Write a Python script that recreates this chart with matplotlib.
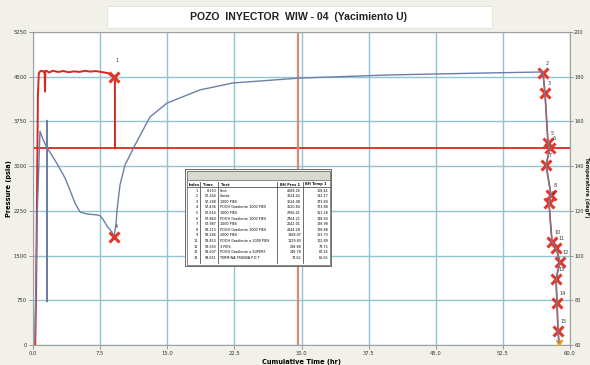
import matplotlib
matplotlib.use("Agg")
import matplotlib.pyplot as plt
from matplotlib.patches import Rectangle

# ---- data -------------------------------------------------------------
# Bottom-hole pressure during injection (psia) vs cumulative time (hr)
inj_time = [0.25, 0.35, 0.45, 0.55, 0.65, 0.8, 1.0, 1.2, 1.3, 1.34, 1.38, 1.5, 1.8,
            2.2, 2.8, 3.4, 4.0, 4.6, 5.2, 5.8, 6.4, 7.0, 7.6, 8.0, 8.4, 8.7, 9.05, 9.15, 9.16]
inj_pres = [0, 900, 2600, 4200, 4560, 4590, 4600, 4580, 4590, 4250, 4590, 4600, 4570,
            4600, 4580, 4595, 4575, 4590, 4580, 4600, 4585, 4595, 4580, 4570, 4560, 4520, 4494, 4480, 3300]

# Bottom-hole temperature (degF): injection cooling and shut-in recovery
temp_time = [0.22, 0.45, 0.78, 1.12, 1.54, 1.55, 1.56, 1.57, 1.9, 2.64, 3.58, 4.13, 4.69,
             5.25, 6.0, 7.13, 7.5, 7.86, 8.27, 8.83, 9.05, 9.27, 9.39, 9.72, 10.28, 11.40,
             13.07, 14.97, 18.66, 22.35, 29.83, 39.89, 51.06, 56.65, 56.98]
temp_vals = [62.0, 115.9, 155.6, 151.9, 148.4, 160.5, 79.3, 148.2, 146.2, 141.4, 134.7, 129.3, 123.5,
             119.5, 118.6, 118.2, 117.8, 116.0, 113.2, 110.5, 108.3, 113.7, 120.4, 131.6, 140.5, 149.5,
             162.0, 168.2, 174.1, 177.2, 179.4, 180.8, 181.7, 182.1, 182.1]

# Gradient survey while pulling out of hole
grad_time = [56.98, 57.21, 57.54, 57.76, 57.32, 57.88, 57.65, 57.99, 58.44, 58.88, 58.44, 58.55, 58.66, 58.77]
grad_pres = [4561, 4226, 3390, 3300, 3019, 2516, 2381, 1727, 1627, 1392, 1107, 704, 235, 34]
grad_temp = [181.6, 172.0, 150.5, 148.0, 140.8, 127.0, 123.5, 106.0, 103.3, 97.0, 89.6, 78.8, 66.3, 61.0]
grad_lbl = ["2", "3", "5", "6", "7", "8", "9", "10", "11", "12", "13", "14", "15", ""]

# Shut-in marker
shut_time = 9.05
shut_pres = 4494
buildup_start_temp = 108.3

ref_pres = 3300      # horizontal reference pressure
ref_time = 29.6      # vertical reference time

x_ticks = [0.0, 7.5, 15.0, 22.5, 30.0, 37.5, 45.0, 52.5, 60.0]
p_ticks = [0, 750, 1500, 2250, 3000, 3750, 4500, 5250]
t_ticks = [60, 80, 100, 120, 140, 160, 180, 200]

# Event table
tbl_index = [str(i) for i in range(1, 14)]
tbl_time = ["8.110", "57.264", "57.288", "57.436", "57.614", "57.860", "57.987",
            "58.213", "58.284", "58.453", "58.583", "58.607", "59.651"]
tbl_text = ["Shut", "Sonda", "1000 PIES", "POOH Gradiente 1000 PIES", "1000 PIES",
            "POOH Gradiente 1000 PIES", "1000 PIES", "POOH Gradiente 1000 PIES",
            "2000 PIES", "POOH Gradiente a 2000 PIES", "3 PIES",
            "POOH Gradiente a SUPERF.", "TERMINA PRUEBA P.O.T"]
tbl_pres = ["4568.26", "3024.42", "3624.08", "3520.84", "2766.41", "2764.21", "2142.01",
            "2144.28", "1168.07", "1129.83", "288.88", "248.78", "17.62"]
tbl_temp = ["108.41", "182.17", "173.80", "173.88", "161.28", "148.60", "128.98",
            "128.88", "103.73", "102.89", "73.75", "67.26", "60.65"]

# ---- styling ----------------------------------------------------------
W, H = 590, 365
RED = "#d8281e"
BLUE = "#6d7ea6"
GRID = "#93c4d2"

fig = plt.figure(figsize=(W / 100, H / 100), dpi=100, facecolor="#f1f0e9")
ax = fig.add_axes([33 / W, 1 - 345 / H, (570 - 33) / W, (345 - 32) / H])
ax.set_facecolor("white")

ax.set_xlim(0, 60)
ax.set_ylim(0, 5250)
ax.set_xticks(x_ticks)
ax.set_xticklabels([f"{v:.1f}" for v in x_ticks])
ax.set_yticks(p_ticks)
ax.grid(True, color=GRID, lw=1.0)
ax.set_axisbelow(True)
for s in ax.spines.values():
    s.set_color("#a0a0a0")
    s.set_linewidth(0.8)
ax.tick_params(labelsize=3.8, length=3, width=0.6, color="#888888", pad=1.5, labelcolor="#333333")

ax2 = ax.twinx()
ax2.set_ylim(60, 200)
ax2.set_yticks(t_ticks)
ax2.tick_params(labelsize=3.6, length=2, width=0.6, color="#888888", pad=1.0, labelcolor="#333333")
for s in ax2.spines.values():
    s.set_visible(False)

ax.set_ylabel("Pressure (psia)", fontsize=4.8, fontweight="bold", labelpad=1)
ax.set_xlabel("Cumulative Time (hr)", fontsize=4.8, fontweight="bold", labelpad=2)
fig.text(586.5 / W, 1 - 187 / H, "Temperature (degF)", rotation=270, ha="center", va="center",
         fontsize=3.9, fontweight="bold", color="#222222")

# reference lines
ax.axhline(ref_pres, color=RED, lw=1.3, zorder=2)
ax.axvline(ref_time, color="#d48c78", lw=1.6, zorder=2)

# temperature
ax2.plot(temp_time, temp_vals, color=BLUE, lw=1.0, zorder=3)
ax2.plot(grad_time, grad_temp, color=BLUE, lw=0.9, zorder=3)

# pressure
ax.plot(inj_time, inj_pres, color=RED, lw=1.4, zorder=4)
ax.plot(grad_time, grad_pres, color=RED, lw=1.2, zorder=4)

# event markers
mk = dict(marker="x", color="#e0392b", markersize=7.5, mew=2.2, ls="none", zorder=5)
ax.plot([shut_time], [shut_pres], **mk)
ax2.plot([shut_time], [buildup_start_temp], **mk)
ax.plot(grad_time[:-1], grad_pres[:-1], **mk)
ax.plot(grad_time[-1:], grad_pres[-1:], marker="v", color="#f0a030", markersize=4, ls="none", zorder=5)
ax.text(shut_time + 0.2, shut_pres + 250, "1", fontsize=3.5, color="#333333", zorder=6)
ax2.text(shut_time + 0.1, buildup_start_temp + 4, "4", fontsize=3.5, color="#333333", zorder=6)
for t, p, s in zip(grad_time, grad_pres, grad_lbl):
    ax.text(t + 0.3, p + 140, s, fontsize=3.5, color="#333333", zorder=6)

# title
fig.patches.append(Rectangle((107 / W, 1 - 28 / H), (492 - 107) / W, 22 / H,
                             transform=fig.transFigure, facecolor="white",
                             edgecolor="#e2e2dc", lw=0.6))
fig.text(299 / W, 1 - 17 / H, "POZO  INYECTOR  WIW - 04  (Yacimiento U)",
         ha="center", va="center", fontsize=7.6, fontweight="bold",
         family="Liberation Sans", color="#222222")

# event table drawn in pixel-like coordinates
tx0, ty0, tw, th = 185, 169, 147, 98
tab = fig.add_axes([tx0 / W, 1 - (ty0 + th) / H, tw / W, th / H])
tab.set_xlim(0, tw)
tab.set_ylim(th, 0)
tab.axis("off")
tab.add_patch(Rectangle((0, 0), tw, th, facecolor="#f4f4f0", edgecolor="#555555", lw=1.2))
tab.add_patch(Rectangle((2, 2), tw - 4, th - 4, facecolor="white", edgecolor="#777777", lw=0.6))
tab.add_patch(Rectangle((2, 2), tw - 4, 9, facecolor="#d9dacf", edgecolor="#777777", lw=0.6))
col_x = [4, 18, 36, 95, 120]
col_sep = [15, 33, 92, 118]
tab.plot([2, tw - 2], [18, 18], color="#555555", lw=0.6)
for cx in col_sep:
    tab.plot([cx, cx], [13, th - 4], color="#555555", lw=0.6)
headers = ["Index", "Time", "Text", "BH Pres 1", "BH Temp 1"]
for x, h in zip(col_x, headers):
    tab.text(x, 15.5, h, fontsize=2.6, fontweight="bold", va="center", color="#111111")
row_h = 5.6
for i in range(len(tbl_index)):
    y = 21.5 + i * row_h
    tab.text(13, y, tbl_index[i], fontsize=2.4, ha="right", va="center")
    tab.text(31, y, tbl_time[i], fontsize=2.4, ha="right", va="center")
    tab.text(35, y, tbl_text[i], fontsize=2.4, ha="left", va="center")
    tab.text(116, y, tbl_pres[i], fontsize=2.4, ha="right", va="center")
    tab.text(tw - 4, y, tbl_temp[i], fontsize=2.4, ha="right", va="center")

fig.savefig("out.png", dpi=100, facecolor=fig.get_facecolor())
